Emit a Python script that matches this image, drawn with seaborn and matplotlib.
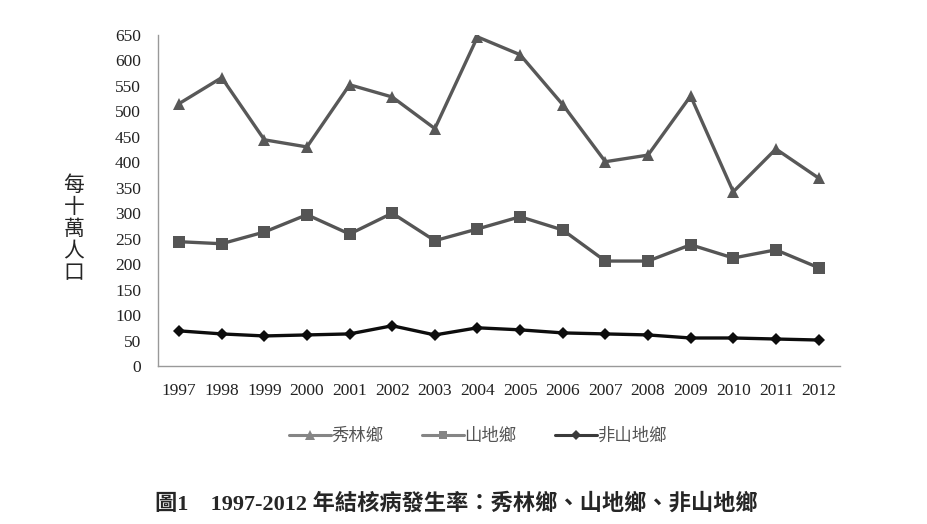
import numpy as np
import pandas as pd
import matplotlib
matplotlib.use("Agg")
import matplotlib.pyplot as plt
import seaborn as sns

# 資料（由圖讀取的估計值）
years = [str(y) for y in range(1997, 2013)]
xiulin = [515, 566, 444, 430, 552, 528, 466, 646, 611, 513, 401, 414, 530, 342, 426, 369]
mountain = [244, 240, 263, 297, 259, 300, 246, 269, 293, 267, 206, 206, 238, 212, 228, 193]
non_mountain = [69, 63, 59, 61, 63, 79, 61, 75, 71, 65, 63, 61, 55, 55, 53, 51]
series_names = ["秀林鄉", "山地鄉", "非山地鄉"]
y_ticks = list(range(0, 651, 50))

df = pd.DataFrame({
    "year": years * 3,
    "value": xiulin + mountain + non_mountain,
    "group": np.repeat(series_names, len(years)),
})
df["x"] = np.tile(np.arange(len(years)), 3)

sns.set_theme(style="white")
plt.rcParams["font.family"] = ["Liberation Serif", "Noto Sans CJK TC", "DejaVu Sans"]

fig = plt.figure(figsize=(9.28, 5.24), dpi=100)
ax = fig.add_axes([0.170, 0.3015, 0.735, 0.632])

palette = {"秀林鄉": "#585858", "山地鄉": "#555555", "非山地鄉": "#0d0d0d"}
legend_colors = {"秀林鄉": "#858585", "山地鄉": "#858585", "非山地鄉": "#3a3a3a"}
markers = {"秀林鄉": "^", "山地鄉": "s", "非山地鄉": "D"}
sizes = {"秀林鄉": 9, "山地鄉": 8.5, "非山地鄉": 6.5}

sns.lineplot(data=df, x="x", y="value", hue="group", style="group",
             palette=palette, markers=markers, dashes=False,
             linewidth=2.4, markersize=8, markeredgewidth=0,
             legend=False, ax=ax)
for line, name in zip(ax.lines, series_names):
    line.set_markersize(sizes[name])

ax.set_xlim(-0.5, len(years) - 0.5)
ax.set_ylim(0, 650)
ax.set_yticks(y_ticks)
ax.set_xticks(range(len(years)))
ax.set_xticklabels(years)
ax.set_xticks(np.arange(-0.5, len(years)), minor=True)
ax.tick_params(axis="x", which="major", length=0, labelsize=12.5, pad=12, colors="#222222")
ax.tick_params(axis="x", which="minor", length=5, direction="in", width=1, color="#999999")
ax.tick_params(axis="y", length=5, direction="in", width=1, color="#999999",
               labelsize=12.5, pad=12, labelcolor="#222222")
ax.set_xlabel("")
ax.set_ylabel("")
for side in ["top", "right"]:
    ax.spines[side].set_visible(False)
for side in ["left", "bottom"]:
    ax.spines[side].set_color("#999999")
    ax.spines[side].set_linewidth(1)

fig.text(74 / 928, 1 - 229 / 524, "每\n十\n萬\n人\n口", ha="center", va="center",
         fontsize=15, linespacing=1.0, family=["Noto Sans CJK TC"])

handles = [plt.Line2D([], [], color=legend_colors[n], marker=markers[n], linewidth=2.2,
                      markersize=sizes[n] * 0.75, markeredgewidth=0) for n in series_names]
leg = fig.legend(handles, series_names, loc="center", bbox_to_anchor=(478 / 928, 1 - 436 / 524),
                 ncol=3, frameon=False, handlelength=2.4, handletextpad=0.05,
                 columnspacing=2.2, prop={"family": ["Noto Sans CJK TC"], "size": 12.5})
for t in leg.get_texts():
    t.set_color("#555555")

fig.text(456 / 928, 1 - 504 / 524, "圖1　1997-2012 年結核病發生率：秀林鄉、山地鄉、非山地鄉",
         ha="center", va="center", fontsize=16, fontweight="bold",
         family=["Liberation Serif", "Noto Sans CJK TC"])

fig.savefig("out.png", dpi=100)
